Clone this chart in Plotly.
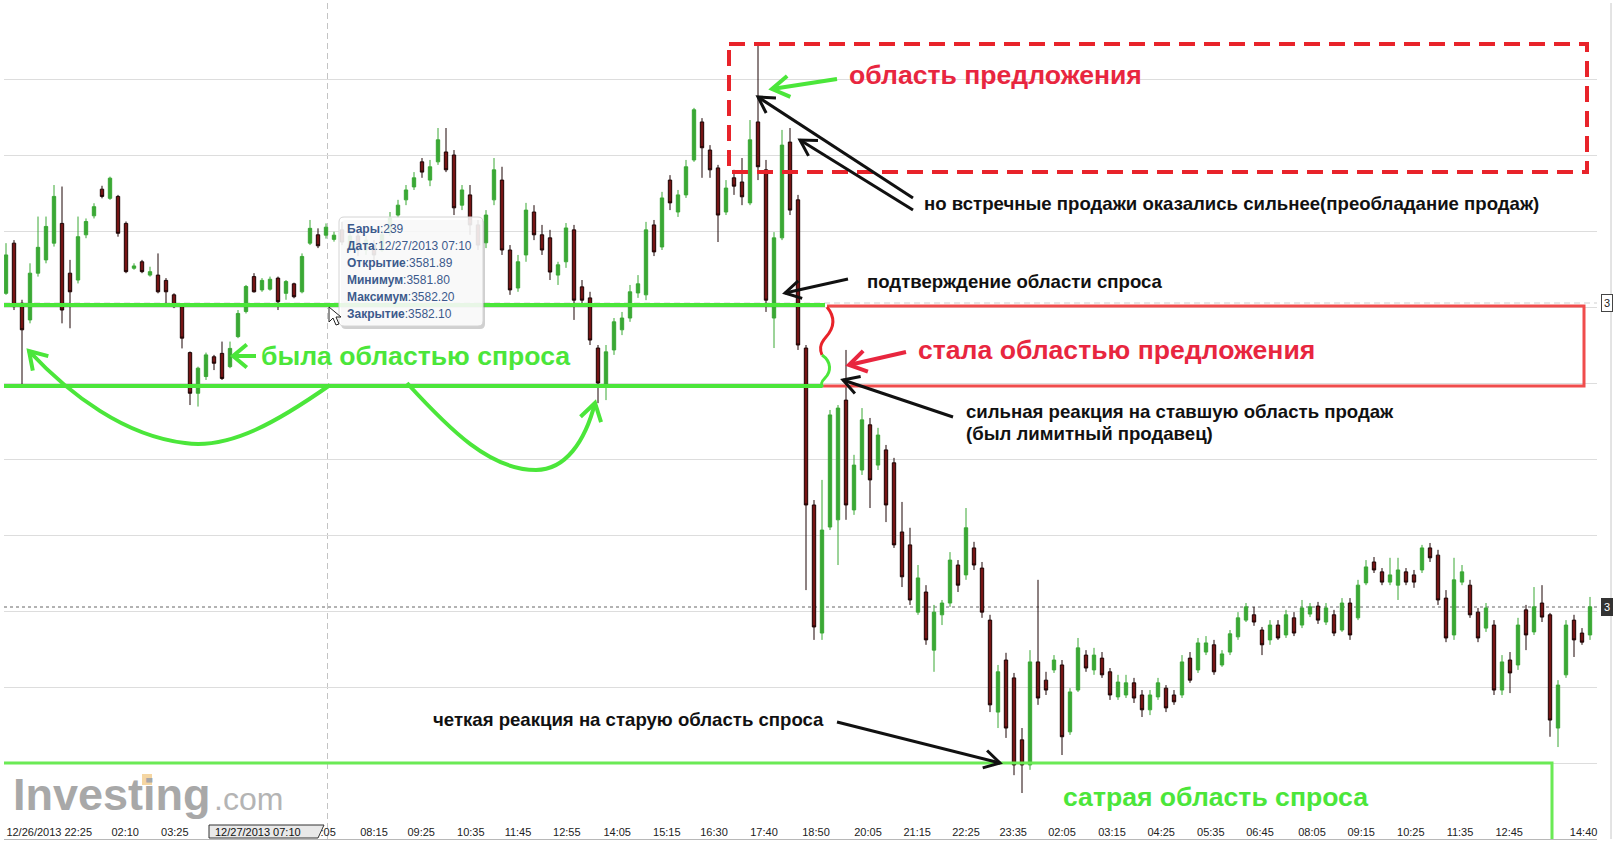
import math
import plotly.graph_objects as go

# ---------------- data (prices) ----------------
open_ = [
    3580.36, 3581.68, 3580.10, 3579.66, 3580.89, 3581.24, 3581.68, 3582.20, 3580.89, 3580.71,
    3581.90, 3582.40, 3583.10, 3582.86, 3582.91, 3582.20, 3581.02, 3581.19, 3580.84, 3580.84,
    3580.70, 3580.32, 3580.01, 3578.80, 3577.73, 3578.17, 3578.69, 3578.78, 3578.43, 3579.22,
    3579.88, 3580.80, 3580.45, 3580.47, 3580.76, 3580.36, 3580.61, 3580.40, 3581.68, 3581.90,
    3581.89, 3581.78, 3582.03, 3581.55, 3581.87, 3581.50, 3581.63, 3581.50, 3581.95, 3582.42,
    3582.82, 3583.16, 3583.82, 3583.34, 3583.82, 3584.08, 3584.00, 3582.68, 3582.95, 3582.16,
    3581.69, 3582.82, 3583.34, 3581.50, 3580.50, 3581.37, 3582.50, 3581.90, 3581.82, 3580.84,
    3581.19, 3582.03, 3580.53, 3580.24, 3578.92, 3577.90, 3578.87, 3579.40, 3579.71, 3580.37,
    3580.32, 3582.16, 3581.58, 3583.34, 3582.50, 3582.95, 3583.87, 3584.87, 3584.13, 3583.66,
    3582.50, 3583.40, 3583.29, 3582.74, 3584.87, 3583.61, 3579.71, 3581.82, 3584.34, 3582.82,
    3578.92, 3574.79, 3571.42, 3574.21, 3574.40, 3577.55, 3574.66, 3575.71, 3576.90, 3575.84,
    3576.24, 3575.90, 3574.08, 3573.74, 3571.97, 3572.50, 3570.97, 3571.90, 3572.21, 3573.21,
    3572.95, 3573.66, 3573.13, 3571.76, 3569.34, 3570.71, 3570.24, 3568.61, 3567.95, 3570.66,
    3570.18, 3570.45, 3570.58, 3568.82, 3569.92, 3570.84, 3570.45, 3570.76, 3570.40, 3569.74,
    3569.79, 3570.11, 3569.79, 3569.40, 3569.74, 3569.97, 3569.79, 3569.79, 3570.76, 3570.45,
    3570.92, 3571.11, 3570.58, 3570.92, 3571.32, 3571.76, 3571.90, 3571.50, 3571.24, 3571.63,
    3571.37, 3571.82, 3571.63, 3571.92, 3572.13, 3571.71, 3571.90, 3571.50, 3572.21, 3571.82,
    3572.74, 3573.29, 3573.03, 3572.76, 3572.68, 3573.03, 3572.95, 3573.08, 3573.66, 3573.47,
    3572.34, 3571.37, 3572.76, 3572.68, 3571.97, 3571.55, 3571.63, 3569.92, 3570.71, 3570.58,
    3572.03, 3571.45, 3572.21, 3571.90, 3568.92, 3570.32, 3571.76, 3571.42, 3571.37,
]
high = [
    3581.68, 3581.76, 3580.19, 3581.15, 3582.38, 3582.38, 3583.21, 3583.17, 3581.24, 3582.38,
    3582.33, 3582.73, 3583.19, 3583.43, 3582.95, 3582.25, 3581.15, 3581.24, 3581.06, 3581.41,
    3580.76, 3580.36, 3580.05, 3578.83, 3578.43, 3578.80, 3578.74, 3579.09, 3579.09, 3579.92,
    3580.58, 3580.89, 3580.76, 3580.80, 3580.80, 3580.71, 3580.64, 3581.41, 3582.29, 3582.07,
    3582.20, 3581.98, 3582.24, 3582.03, 3581.97, 3581.87, 3581.76, 3582.03, 3582.50, 3582.82,
    3583.21, 3583.55, 3583.92, 3583.87, 3584.71, 3584.71, 3584.13, 3583.21, 3583.21, 3582.29,
    3582.55, 3583.92, 3583.69, 3581.63, 3581.37, 3582.74, 3582.68, 3582.16, 3582.03, 3581.19,
    3582.21, 3582.16, 3580.71, 3580.40, 3579.00, 3579.00, 3579.71, 3579.87, 3580.58, 3580.84,
    3582.24, 3582.29, 3583.03, 3583.47, 3583.08, 3583.87, 3585.24, 3584.97, 3584.26, 3583.74,
    3583.34, 3583.61, 3583.92, 3584.92, 3586.95, 3583.87, 3581.97, 3584.66, 3584.71, 3582.95,
    3579.00, 3574.92, 3575.45, 3577.29, 3577.42, 3578.87, 3576.11, 3577.34, 3577.08, 3576.82,
    3576.37, 3576.03, 3574.87, 3574.19, 3573.21, 3572.68, 3572.16, 3572.29, 3573.55, 3573.34,
    3574.71, 3573.82, 3573.29, 3571.90, 3570.58, 3570.90, 3570.37, 3568.92, 3570.97, 3572.82,
    3570.40, 3570.84, 3570.71, 3569.97, 3571.29, 3570.97, 3571.03, 3570.92, 3570.50, 3570.32,
    3570.32, 3570.24, 3569.92, 3569.92, 3570.24, 3570.05, 3569.92, 3570.84, 3570.92, 3571.29,
    3571.34, 3571.24, 3570.97, 3571.50, 3571.97, 3572.21, 3572.11, 3571.58, 3571.76, 3571.76,
    3572.03, 3571.97, 3572.29, 3572.21, 3572.24, 3572.21, 3572.03, 3572.34, 3572.34, 3572.82,
    3573.34, 3573.42, 3573.13, 3573.40, 3573.40, 3573.13, 3573.08, 3573.74, 3573.79, 3573.61,
    3572.55, 3573.40, 3573.21, 3572.82, 3572.08, 3572.21, 3571.76, 3570.84, 3570.92, 3571.82,
    3572.16, 3572.63, 3572.68, 3571.95, 3570.18, 3571.76, 3571.90, 3571.55, 3572.37,
]
low = [
    3580.32, 3579.92, 3577.95, 3579.57, 3580.80, 3581.15, 3581.59, 3579.57, 3579.44, 3580.62,
    3581.81, 3582.33, 3582.86, 3582.82, 3581.85, 3580.89, 3580.98, 3580.89, 3580.80, 3580.36,
    3580.10, 3579.97, 3578.91, 3577.42, 3577.38, 3578.08, 3578.34, 3578.08, 3578.39, 3579.18,
    3579.83, 3580.38, 3580.40, 3580.43, 3579.92, 3580.19, 3580.23, 3580.36, 3581.63, 3581.55,
    3581.80, 3581.72, 3581.63, 3581.45, 3581.34, 3581.37, 3581.24, 3581.45, 3581.87, 3582.34,
    3582.68, 3583.08, 3583.40, 3583.18, 3583.74, 3583.55, 3582.42, 3582.55, 3581.90, 3581.50,
    3581.55, 3582.68, 3581.37, 3580.32, 3580.40, 3581.19, 3581.76, 3581.37, 3580.71, 3580.58,
    3581.03, 3579.66, 3580.05, 3579.00, 3577.47, 3577.55, 3578.74, 3579.26, 3579.61, 3580.24,
    3580.18, 3581.34, 3581.50, 3582.55, 3582.37, 3582.87, 3583.82, 3583.40, 3583.40, 3581.71,
    3582.42, 3582.95, 3582.68, 3582.68, 3583.34, 3579.87, 3578.92, 3581.76, 3582.42, 3578.87,
    3572.55, 3571.24, 3571.24, 3574.13, 3573.21, 3574.40, 3574.53, 3575.58, 3574.71, 3575.71,
    3574.34, 3573.66, 3572.63, 3572.16, 3571.90, 3571.11, 3570.40, 3571.63, 3572.11, 3572.50,
    3572.82, 3573.08, 3571.82, 3569.34, 3568.92, 3568.66, 3567.68, 3567.21, 3567.82, 3569.53,
    3569.79, 3570.37, 3568.21, 3568.74, 3569.87, 3570.40, 3570.32, 3570.24, 3569.66, 3569.66,
    3569.71, 3569.58, 3569.21, 3569.26, 3569.66, 3569.34, 3569.53, 3569.71, 3570.11, 3570.37,
    3570.84, 3570.32, 3570.53, 3570.84, 3571.24, 3571.71, 3571.61, 3570.84, 3571.11, 3571.24,
    3571.29, 3571.34, 3571.55, 3571.84, 3571.66, 3571.63, 3571.34, 3571.45, 3571.24, 3571.76,
    3572.68, 3573.00, 3572.68, 3572.68, 3572.29, 3572.68, 3572.61, 3573.00, 3573.29, 3572.16,
    3571.18, 3571.24, 3572.68, 3571.82, 3571.18, 3571.45, 3569.79, 3569.79, 3569.84, 3570.45,
    3570.97, 3571.37, 3571.71, 3568.69, 3568.42, 3570.24, 3570.79, 3571.11, 3571.24,
]
close = [
    3581.37, 3580.01, 3579.40, 3580.89, 3581.57, 3582.12, 3582.91, 3579.92, 3580.40, 3581.85,
    3582.25, 3582.64, 3582.91, 3583.39, 3581.94, 3580.93, 3581.08, 3580.93, 3580.93, 3580.40,
    3580.40, 3580.01, 3579.18, 3577.73, 3578.39, 3578.74, 3578.52, 3578.12, 3578.91, 3579.83,
    3580.54, 3580.40, 3580.70, 3580.73, 3580.14, 3580.67, 3580.27, 3581.33, 3582.07, 3581.61,
    3582.10, 3581.89, 3581.71, 3581.87, 3581.50, 3581.76, 3581.37, 3581.90, 3582.34, 3582.68,
    3583.08, 3583.40, 3583.55, 3583.69, 3584.40, 3583.61, 3582.61, 3583.08, 3582.16, 3581.63,
    3582.42, 3583.61, 3581.50, 3580.45, 3581.19, 3582.55, 3581.90, 3581.50, 3580.92, 3581.11,
    3582.08, 3580.18, 3580.18, 3579.13, 3578.00, 3578.82, 3579.61, 3579.71, 3580.40, 3580.61,
    3582.03, 3581.45, 3582.87, 3582.74, 3582.95, 3583.69, 3585.19, 3584.19, 3583.61, 3582.42,
    3583.13, 3583.18, 3582.90, 3584.40, 3583.69, 3580.18, 3581.82, 3584.26, 3582.55, 3579.00,
    3574.79, 3571.58, 3574.13, 3577.16, 3577.34, 3574.79, 3575.84, 3577.03, 3575.45, 3576.63,
    3574.79, 3573.74, 3572.90, 3572.29, 3572.87, 3571.24, 3571.97, 3572.21, 3573.34, 3572.68,
    3574.19, 3573.21, 3571.97, 3569.53, 3570.40, 3568.92, 3567.95, 3567.95, 3570.66, 3569.71,
    3569.92, 3570.71, 3568.69, 3569.87, 3571.03, 3570.50, 3570.84, 3570.32, 3569.79, 3570.13,
    3570.11, 3569.71, 3569.40, 3569.79, 3570.11, 3569.45, 3569.61, 3570.66, 3570.18, 3571.16,
    3571.16, 3570.40, 3570.87, 3571.40, 3571.82, 3572.11, 3571.71, 3571.11, 3571.63, 3571.29,
    3571.90, 3571.42, 3572.08, 3572.11, 3571.76, 3572.08, 3571.42, 3572.21, 3571.37, 3572.68,
    3573.16, 3573.08, 3572.76, 3572.95, 3573.08, 3572.76, 3572.76, 3573.66, 3573.40, 3572.29,
    3571.29, 3572.82, 3573.03, 3571.90, 3571.29, 3572.08, 3569.92, 3570.66, 3570.37, 3571.63,
    3571.37, 3572.11, 3571.84, 3569.13, 3570.05, 3571.63, 3571.24, 3571.18, 3572.11,
]

tick_pos = [5.4, 14.9, 21.1, 39.5, 46.0, 51.9, 58.1, 64.0, 70.1, 76.4, 82.6, 88.5, 94.75,
            101.25, 107.75, 113.9, 120.0, 125.9, 132.0, 138.25, 144.4, 150.6, 156.75,
            163.25, 169.4, 175.6, 181.75, 187.9, 197.2]
tick_text = ["12/26/2013 22:25", "02:10", "03:25", "07:05", "08:15", "09:25", "10:35", "11:45",
             "12:55", "14:05", "15:15", "16:30", "17:40", "18:50", "20:05", "21:15", "22:25",
             "23:35", "02:05", "03:15", "04:25", "05:35", "06:45", "08:05", "09:15", "10:25",
             "11:35", "12:45", "14:40"]

tooltip_lines = [("Бары", "239"), ("Дата", "12/27/2013 07:10"), ("Открытие", "3581.89"),
                 ("Минимум", "3581.80"), ("Максимум", "3582.20"), ("Закрытие", "3582.10")]

# ---------------- page geometry helpers (pixel -> axis units) ----------------
W, H = 1615, 847
PL, PR, PT, PB = 4, 1597, 3, 839          # plot area in page pixels
XR = [(PL - 6) / 8, (PR - 6) / 8]
YR = [3566, 3588]


def X(px):
    return (px - 6) / 8


def Y(py):
    return 3588 - (py - 3) / 38


def P(pts):
    return " ".join(f"{'M' if i == 0 else 'L'} {X(a):.4f},{Y(b):.4f}" for i, (a, b) in enumerate(pts))


def C(p0, c1, c2, p1, first=True):
    s = f"M {X(p0[0]):.4f},{Y(p0[1]):.4f} " if first else ""
    return s + f"C {X(c1[0]):.4f},{Y(c1[1]):.4f} {X(c2[0]):.4f},{Y(c2[1]):.4f} {X(p1[0]):.4f},{Y(p1[1]):.4f}"


FONT = "Liberation Sans, Arial, sans-serif"
GREEN = "#4be63a"
RED = "#e8263f"
shapes = []
annos = []


def add_path(path, color, width, dash="solid", layer="above", fill=None):
    shapes.append(dict(type="path", path=path, xref="x", yref="y", layer=layer,
                       line=dict(color=color, width=width, dash=dash),
                       fillcolor=fill if fill else "rgba(0,0,0,0)"))


def arms(tail, head, L=16, ang=30):
    tx, ty = tail
    hx, hy = head
    dx, dy = hx - tx, hy - ty
    n = math.hypot(dx, dy)
    ux, uy = dx / n, dy / n
    out = []
    for s in (1, -1):
        a = math.radians(ang) * s
        rx = ux * math.cos(a) - uy * math.sin(a)
        ry = ux * math.sin(a) + uy * math.cos(a)
        out.append((hx - L * rx, hy - L * ry))
    return out


def arrow(tail, head, color, width, L=16, ang=30):
    add_path(P([tail, head]), color, width)
    a1, a2 = arms(tail, head, L, ang)
    add_path(P([a1, head, a2]), color, width)


def text(px, py, s, size, color, bold=True, anchor="left"):
    annos.append(dict(x=X(px), y=Y(py), xref="x", yref="y", text=f"<b>{s}</b>" if bold else s,
                      showarrow=False, xanchor=anchor, yanchor="middle",
                      font=dict(family=FONT, size=size, color=color)))


# ---------------- figure ----------------
fig = go.Figure()
fig.add_trace(go.Candlestick(
    x=list(range(len(open_))), open=open_, high=high, low=low, close=close,
    increasing=dict(line=dict(color="#3aa835", width=1), fillcolor="#3aa835"),
    decreasing=dict(line=dict(color="#1c0404", width=1), fillcolor="#761414"),
    whiskerwidth=0, showlegend=False, hoverinfo="skip"))

# crosshair and price lines
shapes.append(dict(type="line", xref="x", yref="paper", x0=X(327.5), x1=X(327.5), y0=0, y1=1,
                   layer="below", line=dict(color="#c4c4c4", width=1, dash="6px,4px")))
shapes.append(dict(type="line", xref="paper", yref="y", x0=0, x1=1, y0=Y(303), y1=Y(303),
                   layer="below", line=dict(color="#cfcfcf", width=1, dash="6px,4px")))
shapes.append(dict(type="line", xref="paper", yref="y", x0=0, x1=1, y0=Y(607), y1=Y(607),
                   layer="below", line=dict(color="#666666", width=1, dash="dot")))

# supply zone (dashed red)
shapes.append(dict(type="rect", xref="x", yref="y", x0=X(729), x1=X(1587), y0=Y(44), y1=Y(172),
                   layer="above", line=dict(color="#e8232a", width=4, dash="16px,9px")))

# green demand lines
add_path(P([(0, 305), (825, 305)]), GREEN, 4)
add_path(P([(0, 386), (822, 386)]), GREEN, 4)
# red zone
add_path(P([(827, 306), (1584, 306), (1584, 386), (822, 386)]), "#f04c4c", 3)
# brace
add_path(C((827, 307), (836, 318), (834, 328), (826, 337)) + " " +
         C(None, (819, 345), (820, 350), (822, 355), first=False), "#e8232a", 3)
add_path(C((822, 355), (832, 362), (831, 372), (825, 378)) + " " +
         C(None, (820, 383), (821, 385), (823, 387), first=False), GREEN, 3)
# old demand zone
add_path(P([(0, 763), (1552, 763), (1552, 839)]), "#6bea55", 3)

# curved green arrows
add_path(C((330, 385), (280, 420), (230, 450), (185, 443)) + " " +
         C(None, (125, 436), (70, 395), (29, 351), first=False), GREEN, 4)
a1, a2 = arms((70, 395), (29, 351), L=20, ang=32)
add_path(P([a1, (29, 351), a2]), GREEN, 4)
add_path(C((407, 383), (450, 430), (490, 470), (536, 470)) + " " +
         C(None, (565, 470), (585, 442), (595, 403), first=False), GREEN, 4)
a1, a2 = arms((585, 442), (595, 403), L=20, ang=32)
add_path(P([a1, (595, 403), a2]), GREEN, 4)

# straight arrows
arrow((837, 79), (772, 89), GREEN, 4, L=20, ang=32)
arrow((256, 356), (233, 356), GREEN, 4, L=18, ang=40)
arrow((906, 352), (849, 365), RED, 4, L=20, ang=32)
arrow((913, 198), (758, 97), "#111111", 3, L=18)
arrow((913, 210), (800, 140), "#111111", 3, L=18)
arrow((848, 279), (785, 293), "#111111", 3, L=18)
arrow((953, 417), (843, 380), "#111111", 3, L=18)
arrow((837, 722), (1000, 763), "#111111", 3, L=18)

# texts
text(847, 75, "область предложения", 26.6, RED)
text(922, 203, "но встречные продажи оказались сильнее(преобладание продаж)", 18.6, "#111111")
text(865, 281, "подтверждение области спроса", 18.6, "#111111")
text(916, 350, "стала областью предложения", 26.6, RED)
text(964, 411, "сильная реакция на ставшую область продаж", 18.6, "#111111")
text(964, 433, "(был лимитный продавец)", 18.6, "#111111")
text(259, 356, "была областью спроса", 26.6, GREEN)
text(431, 719, "четкая реакция на старую область спроса", 18.6, "#111111")
text(1061, 797, "сатрая область спроса", 26.6, GREEN)

# tooltip box
tx0, tx1, ty0, ty1, r = 339, 483, 217, 326, 5


def rounded(x0, y0, x1, y1, r):
    return (f"M {X(x0 + r)},{Y(y0)} L {X(x1 - r)},{Y(y0)} Q {X(x1)},{Y(y0)} {X(x1)},{Y(y0 + r)} "
            f"L {X(x1)},{Y(y1 - r)} Q {X(x1)},{Y(y1)} {X(x1 - r)},{Y(y1)} L {X(x0 + r)},{Y(y1)} "
            f"Q {X(x0)},{Y(y1)} {X(x0)},{Y(y1 - r)} L {X(x0)},{Y(y0 + r)} Q {X(x0)},{Y(y0)} {X(x0 + r)},{Y(y0)} Z")


add_path(rounded(tx0 + 2, ty0 + 3, tx1 + 2, ty1 + 3, r), "rgba(0,0,0,0)", 0, fill="rgba(120,120,120,0.35)")
add_path(rounded(tx0, ty0, tx1, ty1, r), "#d4d4d4", 1, fill="rgba(255,255,255,0.86)")
for i, (k, v) in enumerate(tooltip_lines):
    annos.append(dict(x=X(345), y=Y(229 + 17 * i), xref="x", yref="y", text=f"<b>{k}</b>:{v}",
                      showarrow=False, xanchor="left", yanchor="middle", align="left",
                      font=dict(family=FONT, size=12, color="#3c5a8c")))
# mouse cursor
add_path(P([(329, 307), (329, 322), (333, 318), (336, 325), (339, 324), (336, 317), (341, 317), (329, 307)]),
         "#222222", 1, fill="#ffffff")

# crosshair time label on the time axis row
shapes.append(dict(type="path", xref="paper", yref="paper",
                   path=f"M {(209 - PL) / (PR - PL)},{1 / 836} L {(318 - PL) / (PR - PL)},{1 / 836} "
                        f"L {(324 - PL) / (PR - PL)},{14 / 836} L {(209 - PL) / (PR - PL)},{14 / 836} Z",
                   line=dict(color="#333333", width=1), fillcolor="#e9e9e9", layer="above"))
annos.append(dict(x=(213 - PL) / (PR - PL), y=7.5 / 836, xref="paper", yref="paper", text="12/27/2013 07:10",
                  showarrow=False, xanchor="left", yanchor="middle",
                  font=dict(family=FONT, size=11, color="#111111")))

# right edge price markers and frame line
shapes.append(dict(type="line", xref="paper", yref="paper", x0=(1611 - PL) / (PR - PL), x1=(1611 - PL) / (PR - PL),
                   y0=0, y1=1, line=dict(color="#c8c8c8", width=1)))
annos.append(dict(x=(1601 - PL) / (PR - PL), y=Y(303), xref="paper", yref="y", text="3", showarrow=False,
                  xanchor="left", yanchor="middle", bgcolor="#ffffff", bordercolor="#444444", borderwidth=1,
                  borderpad=2, font=dict(family=FONT, size=11, color="#222222")))
annos.append(dict(x=(1601 - PL) / (PR - PL), y=Y(607), xref="paper", yref="y", text="3", showarrow=False,
                  xanchor="left", yanchor="middle", bgcolor="#333333", bordercolor="#333333", borderwidth=1,
                  borderpad=2, font=dict(family=FONT, size=11, color="#ffffff")))

# Investing.com logo
annos.append(dict(x=X(11), y=Y(794), xref="x", yref="y", text="<b>Investing</b>", showarrow=False,
                  xanchor="left", yanchor="middle", font=dict(family=FONT, size=45, color="#a8a8a8")))
annos.append(dict(x=X(212), y=Y(799), xref="x", yref="y", text=".com", showarrow=False,
                  xanchor="left", yanchor="middle", font=dict(family=FONT, size=32, color="#b4b4b4")))
shapes.append(dict(type="rect", xref="x", yref="y", x0=X(142), x1=X(152), y0=Y(774), y1=Y(785),
                   line=dict(width=0), fillcolor="#f5d6a2", layer="above"))

fig.update_layout(
    width=W, height=H, autosize=False,
    margin=dict(l=PL, r=W - PR, t=PT, b=H - PB, pad=0, autoexpand=False),
    paper_bgcolor="#ffffff", plot_bgcolor="#ffffff",
    boxgap=0.4,
    shapes=shapes, annotations=annos,
    xaxis=dict(range=XR, showgrid=False, zeroline=False, showline=True, linecolor="#b8b8b8",
               tickmode="array", tickvals=tick_pos, ticktext=tick_text, ticks="", automargin=False,
               ticklabelposition="inside", ticklabeloverflow="allow",
               tickfont=dict(family=FONT, size=11, color="#222222"),
               rangeslider=dict(visible=False), fixedrange=True),
    yaxis=dict(range=YR, showgrid=True, gridcolor="#dddddd", gridwidth=1, tick0=3566, dtick=2,
               zeroline=False, showticklabels=False, showline=False, fixedrange=True, automargin=False),
    showlegend=False,
)

fig.write_html("out.html")
